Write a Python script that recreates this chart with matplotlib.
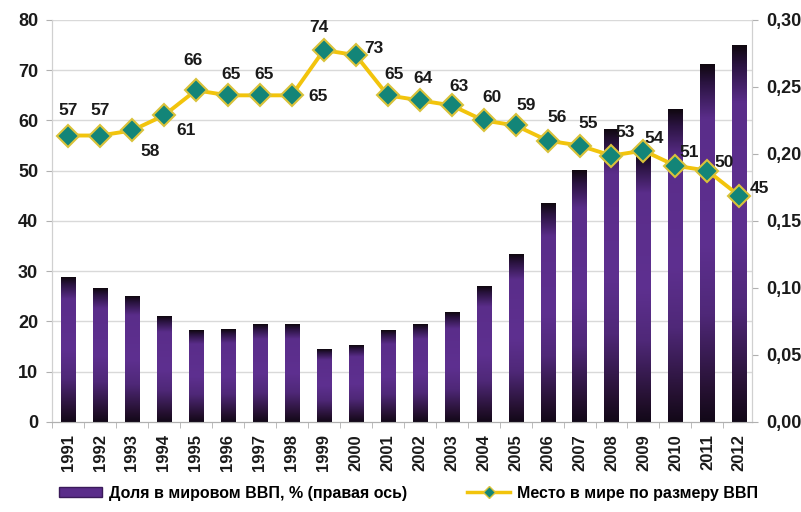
import numpy as np
import matplotlib
matplotlib.use("Agg")
import matplotlib.pyplot as plt
from matplotlib.colors import LinearSegmentedColormap
from matplotlib.patches import Patch
from matplotlib.lines import Line2D

plt.rcParams['font.family'] = ['Liberation Sans', 'DejaVu Sans']
plt.rcParams['font.weight'] = 'bold'

# data
years = [str(y) for y in range(1991, 2013)]
share = [0.108, 0.100, 0.094, 0.079, 0.068, 0.069, 0.073, 0.073, 0.054, 0.057, 0.068,
         0.073, 0.082, 0.101, 0.125, 0.163, 0.188, 0.218, 0.201, 0.233, 0.267, 0.281]
rank = [57, 57, 58, 61, 66, 65, 65, 65, 74, 73, 65, 64, 63, 60, 59, 56, 55, 53, 54, 51, 50, 45]
left_ticks = [0, 10, 20, 30, 40, 50, 60, 70, 80]
right_ticks = [0.0, 0.05, 0.10, 0.15, 0.20, 0.25, 0.30]

bar_label = "Доля в мировом ВВП, % (правая ось)"
line_label = "Место в мире по размеру ВВП"

# label offsets (pixels) for the line values
offsets = [(0, 25), (0, 25), (18, -21), (22, -15), (-3, 30), (3, 21), (4, 21), (26, -1),
           (-5, 23), (18, 7), (6, 21), (3, 22), (7, 19), (8, 23), (11, 20), (10, 23),
           (9, 22), (14, 23), (11, 12), (14, 13), (17, 8), (20, 7)]

txt = '#1a1a1a'
grid_c = '#d9d9d9'
x = np.arange(len(years))

fig = plt.figure(figsize=(8.01, 5.12), dpi=100)
ax = fig.add_axes([0.065, 0.176, 0.874, 0.785])
ax2 = ax.twinx()
ax.set_zorder(ax2.get_zorder() + 1)
ax.patch.set_visible(False)

# bars on right axis, with vertical gradient
cmap = LinearSegmentedColormap.from_list('barg', [
    (0.0, '#120818'), (0.08, '#24102f'), (0.3, '#4f2878'), (0.5, '#5e3090'),
    (0.85, '#5a2d8a'), (0.95, '#2a1340'), (1.0, '#100810')])
grad = np.linspace(0, 1, 256).reshape(-1, 1)
bw = 0.44
bars = ax2.bar(x, share, width=bw, color='#5a2d8a', zorder=2)
for b in bars:
    x0 = b.get_x()
    h = b.get_height()
    ax2.imshow(grad, extent=[x0, x0 + bw, 0, h], origin='lower', aspect='auto',
               cmap=cmap, zorder=3)

ax2.set_xlim(-0.5, 21.4)
ax2.set_ylim(0, 0.30)
for v in left_ticks[1:]:
    ax2.axhline(v * 0.30 / 80, color=grid_c, lw=1, zorder=0)

# line on left axis
ax.plot(x, rank, color='#f2c40c', lw=2.8, zorder=4)
ax.plot(x, rank, ls='none', marker='D', ms=11, mfc='#138578', mec='#d9c23a', mew=1.5, zorder=5)
for xi, r, (dx, dy) in zip(x, rank, offsets):
    ax.annotate(str(r), (xi, r), xytext=(dx, dy), textcoords='offset pixels',
                ha='center', va='center', fontsize=12.5, fontweight='bold', color=txt, zorder=6)

ax.set_xlim(-0.5, 21.4)
ax.set_ylim(0, 80)
ax.set_yticks(left_ticks)
ax.set_yticklabels([str(v) for v in left_ticks], fontsize=13, fontweight='bold', color=txt)
ax2.set_yticks(right_ticks)
ax2.set_yticklabels([('%.2f' % v).replace('.', ',') for v in right_ticks],
                    fontsize=13, fontweight='bold', color=txt)

ax.set_xticks(x)
ax.set_xticklabels(years, rotation=90, fontsize=12, fontweight='bold', color=txt)
ax.set_xticks(np.arange(-0.5, 21.5, 1), minor=True)
ax.tick_params(axis='x', which='major', length=0, pad=9)
ax.tick_params(axis='x', which='minor', length=4, color='#b0b0b0')
ax.tick_params(axis='y', length=4, color='#b0b0b0', pad=6)
ax2.tick_params(axis='y', length=4, color='#b0b0b0', pad=6)

for a in (ax, ax2):
    a.spines['top'].set_visible(False)
    a.spines['left'].set_color('#d0d0d0')
    a.spines['right'].set_color('#d0d0d0')
    a.spines['bottom'].set_color('#b0b0b0')

handles = [Patch(facecolor='#5a2d8a', edgecolor='#3a1a5a'),
           Line2D([0], [0], color='#f2c40c', lw=2.5, marker='D', ms=6,
                  mfc='#138578', mec='#d9c23a')]
fig.legend(handles, [bar_label, line_label], loc='center', bbox_to_anchor=(0.51, 0.037),
           ncol=2, frameon=False, handlelength=2.7, handleheight=0.6, columnspacing=3.8,
           handletextpad=0.4, prop={'size': 11.5, 'weight': 'bold'})

fig.savefig('out.png', dpi=100)
